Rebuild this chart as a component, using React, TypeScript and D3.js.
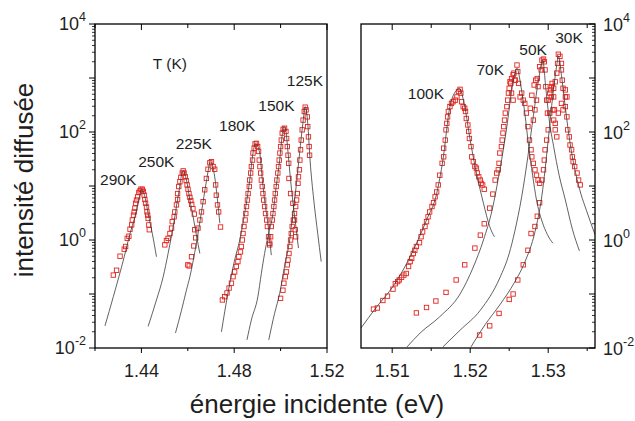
import React from 'react';
import * as d3 from 'd3';

// energies in eV, intensities kept as log10(intensity)
type Pt = [number, number];

// ---- left panel (290K .. 125K) ----
const fit290: Pt[] = [[1.4243,-1.59],[1.4279,-1.05],[1.4326,-0.31],[1.4351,0.12],[1.4372,0.43],[1.4389,0.74],[1.4401,0.94],[1.4415,0.80],[1.4429,0.49],[1.4447,0.12],[1.4465,-0.31]];
const dat290: Pt[] = [[1.4279,-0.65],[1.4293,-0.56],[1.4308,-0.30],[1.4326,-0.17],[1.4332,-0.12],[1.4339,0.03],[1.4346,0.07],[1.4351,0.20],[1.4358,0.28],[1.4361,0.37],[1.4366,0.46],[1.4369,0.52],[1.4372,0.59],[1.4375,0.68],[1.4379,0.74],[1.4384,0.80],[1.4389,0.88],[1.4394,0.91],[1.4398,0.94],[1.4404,0.94],[1.4408,0.90],[1.4412,0.83],[1.4415,0.75],[1.4418,0.68],[1.4422,0.61],[1.4424,0.52],[1.4427,0.46],[1.4429,0.40],[1.4432,0.28],[1.4434,0.19]];

const fit250: Pt[] = [[1.4429,-1.60],[1.4465,-1.11],[1.4494,-0.68],[1.4515,-0.25],[1.4537,0.25],[1.4558,0.80],[1.4580,1.28],[1.4597,1.05],[1.4609,0.74],[1.4623,0.43],[1.4637,0.09],[1.4652,-0.25]];
const dat250: Pt[] = [[1.4501,-0.09],[1.4508,-0.01],[1.4515,0.03],[1.4523,0.12],[1.4530,0.22],[1.4533,0.34],[1.4541,0.43],[1.4544,0.52],[1.4551,0.65],[1.4556,0.75],[1.4556,0.86],[1.4561,0.99],[1.4566,1.08],[1.4570,1.16],[1.4576,1.24],[1.4580,1.28],[1.4584,1.24],[1.4589,1.17],[1.4593,1.10],[1.4597,1.02],[1.4601,0.94],[1.4605,0.86],[1.4609,0.79],[1.4613,0.73],[1.4617,0.66],[1.4622,0.58],[1.4628,0.48]];

const fit225: Pt[] = [[1.4547,-1.72],[1.4573,-1.30],[1.4594,-0.93],[1.4609,-0.68],[1.4637,-0.06],[1.4659,0.52],[1.4680,1.08],[1.4698,1.45],[1.4716,1.17],[1.4728,0.74],[1.4738,0.31]];
const dat225: Pt[] = [[1.4600,-0.46],[1.4606,-0.48],[1.4616,-0.31],[1.4626,-0.11],[1.4630,0.19],[1.4634,0.04],[1.4644,0.22],[1.4652,0.37],[1.4659,0.52],[1.4666,0.71],[1.4673,0.93],[1.4680,1.14],[1.4687,1.31],[1.4695,1.43],[1.4702,1.45],[1.4709,1.36],[1.4716,1.31],[1.4720,1.02],[1.4723,0.83],[1.4728,0.65],[1.4733,0.52],[1.4741,0.24]];

const fit180: Pt[] = [[1.4745,-1.70],[1.4759,-1.33],[1.4781,-0.80],[1.4802,-0.37],[1.4824,0.00],[1.4845,0.49],[1.4867,1.11],[1.4881,1.61],[1.4892,1.79],[1.4910,1.61],[1.4920,1.17],[1.4931,0.74],[1.4945,0.31],[1.4960,-0.28]];
const dat180: Pt[] = [[1.4749,-1.11],[1.4759,-1.05],[1.4769,-0.98],[1.4778,-0.89],[1.4788,-0.80],[1.4795,-0.68],[1.4802,-0.59],[1.4809,-0.49],[1.4816,-0.40],[1.4820,-0.31],[1.4827,-0.22],[1.4831,-0.12],[1.4835,0.00],[1.4838,0.12],[1.4842,0.25],[1.4847,0.37],[1.4850,0.49],[1.4853,0.62],[1.4857,0.74],[1.4860,0.86],[1.4865,0.99],[1.4867,1.11],[1.4871,1.24],[1.4874,1.36],[1.4879,1.48],[1.4881,1.61],[1.4886,1.70],[1.4890,1.78],[1.4896,1.79],[1.4901,1.73],[1.4905,1.64],[1.4908,1.48],[1.4911,1.36],[1.4914,1.24],[1.4917,1.11],[1.4921,0.99],[1.4924,0.86],[1.4927,0.74],[1.4931,0.62],[1.4935,0.49],[1.4940,0.37],[1.4943,0.25],[1.4948,0.06],[1.4953,-0.09]];

const fit150: Pt[] = [[1.4855,-1.85],[1.4874,-1.48],[1.4902,-1.05],[1.4917,-0.62],[1.4931,-0.25],[1.4945,0.06],[1.4967,0.49],[1.4981,0.99],[1.4996,1.48],[1.5006,1.91],[1.5014,2.10],[1.5022,2.04],[1.5031,1.67],[1.5041,1.20],[1.5052,0.74],[1.5065,0.28],[1.5077,-0.15]];
const dat150: Pt[] = [[1.4953,-0.06],[1.4957,0.06],[1.4960,0.25],[1.4964,0.37],[1.4967,0.49],[1.4971,0.62],[1.4974,0.74],[1.4977,0.86],[1.4981,0.99],[1.4984,1.11],[1.4988,1.24],[1.4991,1.36],[1.4994,1.48],[1.4997,1.61],[1.5000,1.73],[1.5003,1.85],[1.5007,1.98],[1.5011,2.05],[1.5017,2.07],[1.5023,2.01],[1.5026,1.88],[1.5029,1.73],[1.5032,1.57],[1.5035,1.42],[1.5036,1.14],[1.5043,0.86],[1.5053,0.68],[1.5060,0.37],[1.5063,0.19],[1.5065,0.06]];

const fit125: Pt[] = [[1.4949,-1.85],[1.4974,-1.36],[1.4996,-0.99],[1.5017,-0.49],[1.5039,0.00],[1.5053,0.49],[1.5067,0.99],[1.5082,1.61],[1.5096,2.16],[1.5106,2.47],[1.5117,2.16],[1.5127,1.48],[1.5143,0.74],[1.5160,0.12],[1.5175,-0.40]];
const dat125: Pt[] = [[1.5000,-1.08],[1.5010,-0.93],[1.5014,-0.80],[1.5020,-0.68],[1.5025,-0.59],[1.5029,-0.46],[1.5032,-0.37],[1.5036,-0.25],[1.5040,-0.12],[1.5043,0.00],[1.5046,0.12],[1.5050,0.25],[1.5055,0.37],[1.5060,0.49],[1.5065,0.62],[1.5069,0.74],[1.5072,0.86],[1.5075,1.05],[1.5077,1.17],[1.5081,1.30],[1.5083,1.48],[1.5086,1.67],[1.5089,1.85],[1.5093,2.04],[1.5097,2.22],[1.5102,2.38],[1.5106,2.46],[1.5110,2.41],[1.5115,2.28],[1.5117,2.10],[1.5120,1.91],[1.5123,1.73],[1.5125,1.57]];

// ---- right panel (100K .. 30K) ----
const fit100: Pt[] = [[1.5060,-1.63],[1.5080,-1.24],[1.5101,-0.86],[1.5123,-0.31],[1.5144,0.37],[1.5157,0.86],[1.5165,1.48],[1.5174,2.47],[1.5183,2.78],[1.5186,2.81],[1.5193,2.47],[1.5200,1.85],[1.5208,1.24],[1.5217,0.68],[1.5225,0.25],[1.5231,0.06]];
const dat100: Pt[] = [[1.5076,-1.28],[1.5081,-1.26],[1.5088,-1.12],[1.5094,-1.04],[1.5101,-0.91],[1.5104,-0.81],[1.5107,-0.77],[1.5109,-0.74],[1.5112,-0.69],[1.5115,-0.65],[1.5118,-0.62],[1.5121,-0.49],[1.5123,-0.40],[1.5125,-0.34],[1.5127,-0.25],[1.5129,-0.19],[1.5131,-0.12],[1.5135,-0.05],[1.5137,0.06],[1.5139,0.15],[1.5142,0.25],[1.5144,0.34],[1.5146,0.43],[1.5148,0.52],[1.5151,0.62],[1.5153,0.69],[1.5155,0.80],[1.5157,0.89],[1.5159,1.02],[1.5161,1.20],[1.5164,1.42],[1.5166,1.54],[1.5166,1.70],[1.5168,1.85],[1.5169,2.04],[1.5170,2.16],[1.5171,2.28],[1.5172,2.38],[1.5174,2.47],[1.5176,2.53],[1.5178,2.56],[1.5181,2.59],[1.5183,2.65],[1.5185,2.75],[1.5187,2.79],[1.5188,2.72],[1.5189,2.56],[1.5191,2.47],[1.5193,2.44],[1.5194,2.38],[1.5195,2.25],[1.5197,2.13],[1.5198,2.01],[1.5199,1.88],[1.5201,1.73],[1.5202,1.54],[1.5204,1.45],[1.5206,1.36],[1.5208,1.33],[1.5209,1.24],[1.5211,1.17],[1.5213,1.11],[1.5214,1.05],[1.5216,1.02],[1.5218,0.94]];

const fit70: Pt[] = [[1.5119,-1.98],[1.5136,-1.72],[1.5161,-1.42],[1.5187,-1.00],[1.5204,-0.50],[1.5217,0.00],[1.5228,0.55],[1.5238,1.30],[1.5247,2.10],[1.5253,2.75],[1.5260,3.18],[1.5265,2.85],[1.5270,2.35],[1.5275,1.73],[1.5280,1.20],[1.5285,0.74],[1.5292,0.35],[1.5299,0.10],[1.5306,-0.06]];
const dat70: Pt[] = [[1.5131,-1.35],[1.5144,-1.25],[1.5156,-1.13],[1.5169,-0.97],[1.5182,-0.74],[1.5193,-0.46],[1.5206,-0.15],[1.5213,0.09],[1.5218,0.30],[1.5225,0.59],[1.5229,0.85],[1.5232,1.11],[1.5234,1.24],[1.5236,1.30],[1.5237,1.42],[1.5238,1.61],[1.5240,1.73],[1.5241,1.85],[1.5242,1.98],[1.5243,2.10],[1.5244,2.22],[1.5245,2.35],[1.5247,2.47],[1.5248,2.59],[1.5249,2.72],[1.5250,2.81],[1.5251,2.93],[1.5252,2.90],[1.5253,2.72],[1.5253,2.99],[1.5255,2.59],[1.5255,3.06],[1.5256,3.09],[1.5257,2.96],[1.5258,2.96],[1.5260,3.24],[1.5261,3.12],[1.5262,2.90],[1.5264,2.65],[1.5266,2.72],[1.5268,2.59],[1.5270,2.53],[1.5272,2.35],[1.5274,2.10],[1.5276,1.85],[1.5278,1.67],[1.5279,1.54],[1.5281,1.42],[1.5283,1.30],[1.5285,1.20],[1.5287,1.11],[1.5289,1.05]];

const fit50: Pt[] = [[1.5165,-1.98],[1.5187,-1.67],[1.5213,-1.30],[1.5238,-0.70],[1.5250,-0.25],[1.5257,0.15],[1.5266,0.80],[1.5274,1.55],[1.5281,2.30],[1.5288,3.00],[1.5293,3.33],[1.5297,2.80],[1.5302,2.15],[1.5307,1.73],[1.5314,1.20],[1.5322,0.74],[1.5331,0.20],[1.5340,-0.20]];
const dat50: Pt[] = [[1.5277,2.44],[1.5279,2.68],[1.5281,2.22],[1.5282,2.87],[1.5283,2.41],[1.5284,2.96],[1.5285,2.59],[1.5286,2.99],[1.5287,2.84],[1.5289,3.21],[1.5291,3.15],[1.5292,3.33],[1.5294,3.35],[1.5295,3.30],[1.5296,3.15],[1.5297,2.84],[1.5298,2.59],[1.5299,2.35],[1.5300,2.59],[1.5302,2.72],[1.5304,2.84],[1.5306,2.41],[1.5307,2.22],[1.5309,2.04]];

const fit30: Pt[] = [[1.5201,-1.98],[1.5219,-1.57],[1.5238,-1.20],[1.5257,-0.78],[1.5270,-0.41],[1.5283,0.15],[1.5292,0.83],[1.5300,1.85],[1.5306,2.69],[1.5311,3.24],[1.5313,3.41],[1.5317,3.05],[1.5322,2.45],[1.5328,1.80],[1.5335,1.25],[1.5342,0.85],[1.5349,0.55],[1.5355,0.30],[1.5360,0.10]];
const dat30: Pt[] = [[1.5212,-1.76],[1.5225,-1.59],[1.5237,-1.36],[1.5250,-1.10],[1.5255,-1.00],[1.5261,-0.74],[1.5268,-0.46],[1.5274,-0.19],[1.5278,0.12],[1.5283,0.25],[1.5286,0.44],[1.5289,0.69],[1.5292,1.11],[1.5294,1.30],[1.5295,1.48],[1.5296,1.67],[1.5298,1.85],[1.5300,2.04],[1.5302,2.35],[1.5303,2.78],[1.5304,2.65],[1.5305,2.90],[1.5307,2.81],[1.5307,2.65],[1.5308,2.41],[1.5309,2.93],[1.5309,2.16],[1.5311,3.09],[1.5311,1.91],[1.5312,3.27],[1.5313,3.44],[1.5313,2.35],[1.5315,3.40],[1.5317,3.27],[1.5317,3.15],[1.5317,2.53],[1.5318,2.96],[1.5319,2.81],[1.5319,2.41],[1.5322,2.78],[1.5322,2.65],[1.5322,2.47],[1.5324,2.65],[1.5324,2.28],[1.5325,2.04],[1.5327,1.91],[1.5328,1.76],[1.5330,1.67],[1.5331,1.54],[1.5332,1.45],[1.5334,1.36],[1.5337,1.24],[1.5339,1.11],[1.5341,1.02]];

// temperature labels, anchored in data coordinates [E, log10 I]
const leftLabels: [string, number, number][] = [['T (K)',1.4449,3.16],['290K',1.4222,1.02],['250K',1.4386,1.35],['225K',1.4548,1.69],['180K',1.4735,2.01],['150K',1.4904,2.38],['125K',1.5027,2.85]];
const rightLabels: [string, number, number][] = [['100K',1.5120,2.61],['70K',1.5208,3.06],['50K',1.5263,3.43],['30K',1.5309,3.65]];

const leftFits = [fit290, fit250, fit225, fit180, fit150, fit125];
const leftData = [dat290, dat250, dat225, dat180, dat150, dat125];
const rightFits = [fit100, fit70, fit50, fit30];
const rightData = [dat100, dat70, dat50, dat30];

const leftMajor = [1.44, 1.48, 1.52];
const leftMinor = [1.42, 1.46, 1.50];
const rightMajor = [1.51, 1.52, 1.53];
const rightMinor = [1.515, 1.525, 1.535];
const yExps = [-2, 0, 2, 4];

const FONT = 'Liberation Sans, Arial, Helvetica, sans-serif';
const INK = '#1e1e1e';
const RED = '#e3241f';

const y = d3.scaleLog().domain([1e-2, 1e4]).range([348, 24]);
const xL = d3.scaleLinear().domain([1.42, 1.52]).range([95, 327]);
const xR = d3.scaleLinear().domain([1.506, 1.536]).range([361, 595]);

const decadeTicks = d3.range(-2, 5).map((k) => 10 ** k);
const minorTicks = d3.range(-2, 4).flatMap((k) => d3.range(2, 10).map((m) => m * 10 ** k));

function Panel({ x, id, fits, data, labels, major, minor }: any) {
  const [x0, x1] = x.range();
  const [yb, yt] = y.range();
  const line = d3.line<Pt>().x((d) => x(d[0])).y((d) => y(10 ** d[1])).curve(d3.curveMonotoneX);
  return (
    <g>
      <clipPath id={id}>
        <rect x={x0} y={yt} width={x1 - x0} height={yb - yt} />
      </clipPath>
      <g clipPath={`url(#${id})`}>
        {data.map((pts: Pt[], i: number) =>
          pts.map((d, j) => (
            <rect key={`${i}-${j}`} x={x(d[0]) - 2.2} y={y(10 ** d[1]) - 2.2} width={4.4} height={4.4}
              fill="none" stroke={RED} strokeWidth={0.9} />
          ))
        )}
        {fits.map((f: Pt[], i: number) => (
          <path key={i} d={line(f) || ''} fill="none" stroke="#3a3a3a" strokeWidth={0.8} />
        ))}
      </g>
      {labels.map(([t, e, l]: [string, number, number]) => (
        <text key={t} x={x(e)} y={y(10 ** l)} fontSize={15.5} fill={INK}>{t}</text>
      ))}
      {/* bottom ticks outward, top ticks inward */}
      {major.map((v: number) => (
        <g key={'M' + v}>
          <line x1={x(v)} x2={x(v)} y1={yb} y2={yb + 5} stroke="#000" />
          <line x1={x(v)} x2={x(v)} y1={yt} y2={yt + 6} stroke="#000" />
          <text x={x(v)} y={377} fontSize={18} textAnchor="middle" fill={INK}>{v.toFixed(2)}</text>
        </g>
      ))}
      {minor.map((v: number) => (
        <g key={'m' + v}>
          <line x1={x(v)} x2={x(v)} y1={yb} y2={yb + 3} stroke="#000" />
          <line x1={x(v)} x2={x(v)} y1={yt} y2={yt + 4} stroke="#000" />
        </g>
      ))}
      <rect x={x0} y={yt} width={x1 - x0} height={yb - yt} fill="none" stroke="#000" strokeWidth={1.3} />
    </g>
  );
}

export default function App() {
  const [yb] = y.range();
  return (
    <svg width={635} height={421} style={{ position: 'absolute', left: 0, top: 0, background: '#fff' }}
      fontFamily={FONT}>
      <Panel x={xL} id="clipL" fits={leftFits} data={leftData} labels={leftLabels} major={leftMajor} minor={leftMinor} />
      <Panel x={xR} id="clipR" fits={rightFits} data={rightData} labels={rightLabels} major={rightMajor} minor={rightMinor} />

      {/* left log axis: ticks outward */}
      {decadeTicks.map((v) => (
        <line key={'ld' + v} x1={89} x2={95} y1={y(v)} y2={y(v)} stroke="#000" />
      ))}
      {minorTicks.map((v) => (
        <line key={'lm' + v} x1={92} x2={95} y1={y(v)} y2={y(v)} stroke="#000" strokeWidth={0.8} />
      ))}
      {yExps.map((k) => (
        <text key={'ll' + k} x={86} y={y(10 ** k) + 6} fontSize={18} textAnchor="end" fill={INK}>
          10<tspan fontSize={12.5} dy={-9}>{k}</tspan>
        </text>
      ))}

      {/* right log axis: ticks inward, labels outside */}
      {decadeTicks.map((v) => (
        <line key={'rd' + v} x1={589} x2={595} y1={y(v)} y2={y(v)} stroke="#000" />
      ))}
      {minorTicks.map((v) => (
        <line key={'rm' + v} x1={592} x2={595} y1={y(v)} y2={y(v)} stroke="#000" strokeWidth={0.8} />
      ))}
      {yExps.map((k) => (
        <text key={'rl' + k} x={603} y={y(10 ** k) + 7} fontSize={18} fill={INK}>
          10<tspan fontSize={12.5} dy={-9}>{k}</tspan>
        </text>
      ))}

      <text x={317} y={413} fontSize={26} textAnchor="middle" fill={INK}>énergie incidente (eV)</text>
      <text transform={`translate(33,${(yb + 24) / 2 - 6}) rotate(-90)`} fontSize={26} textAnchor="middle" fill={INK}>
        intensité diffusée
      </text>
    </svg>
  );
}
